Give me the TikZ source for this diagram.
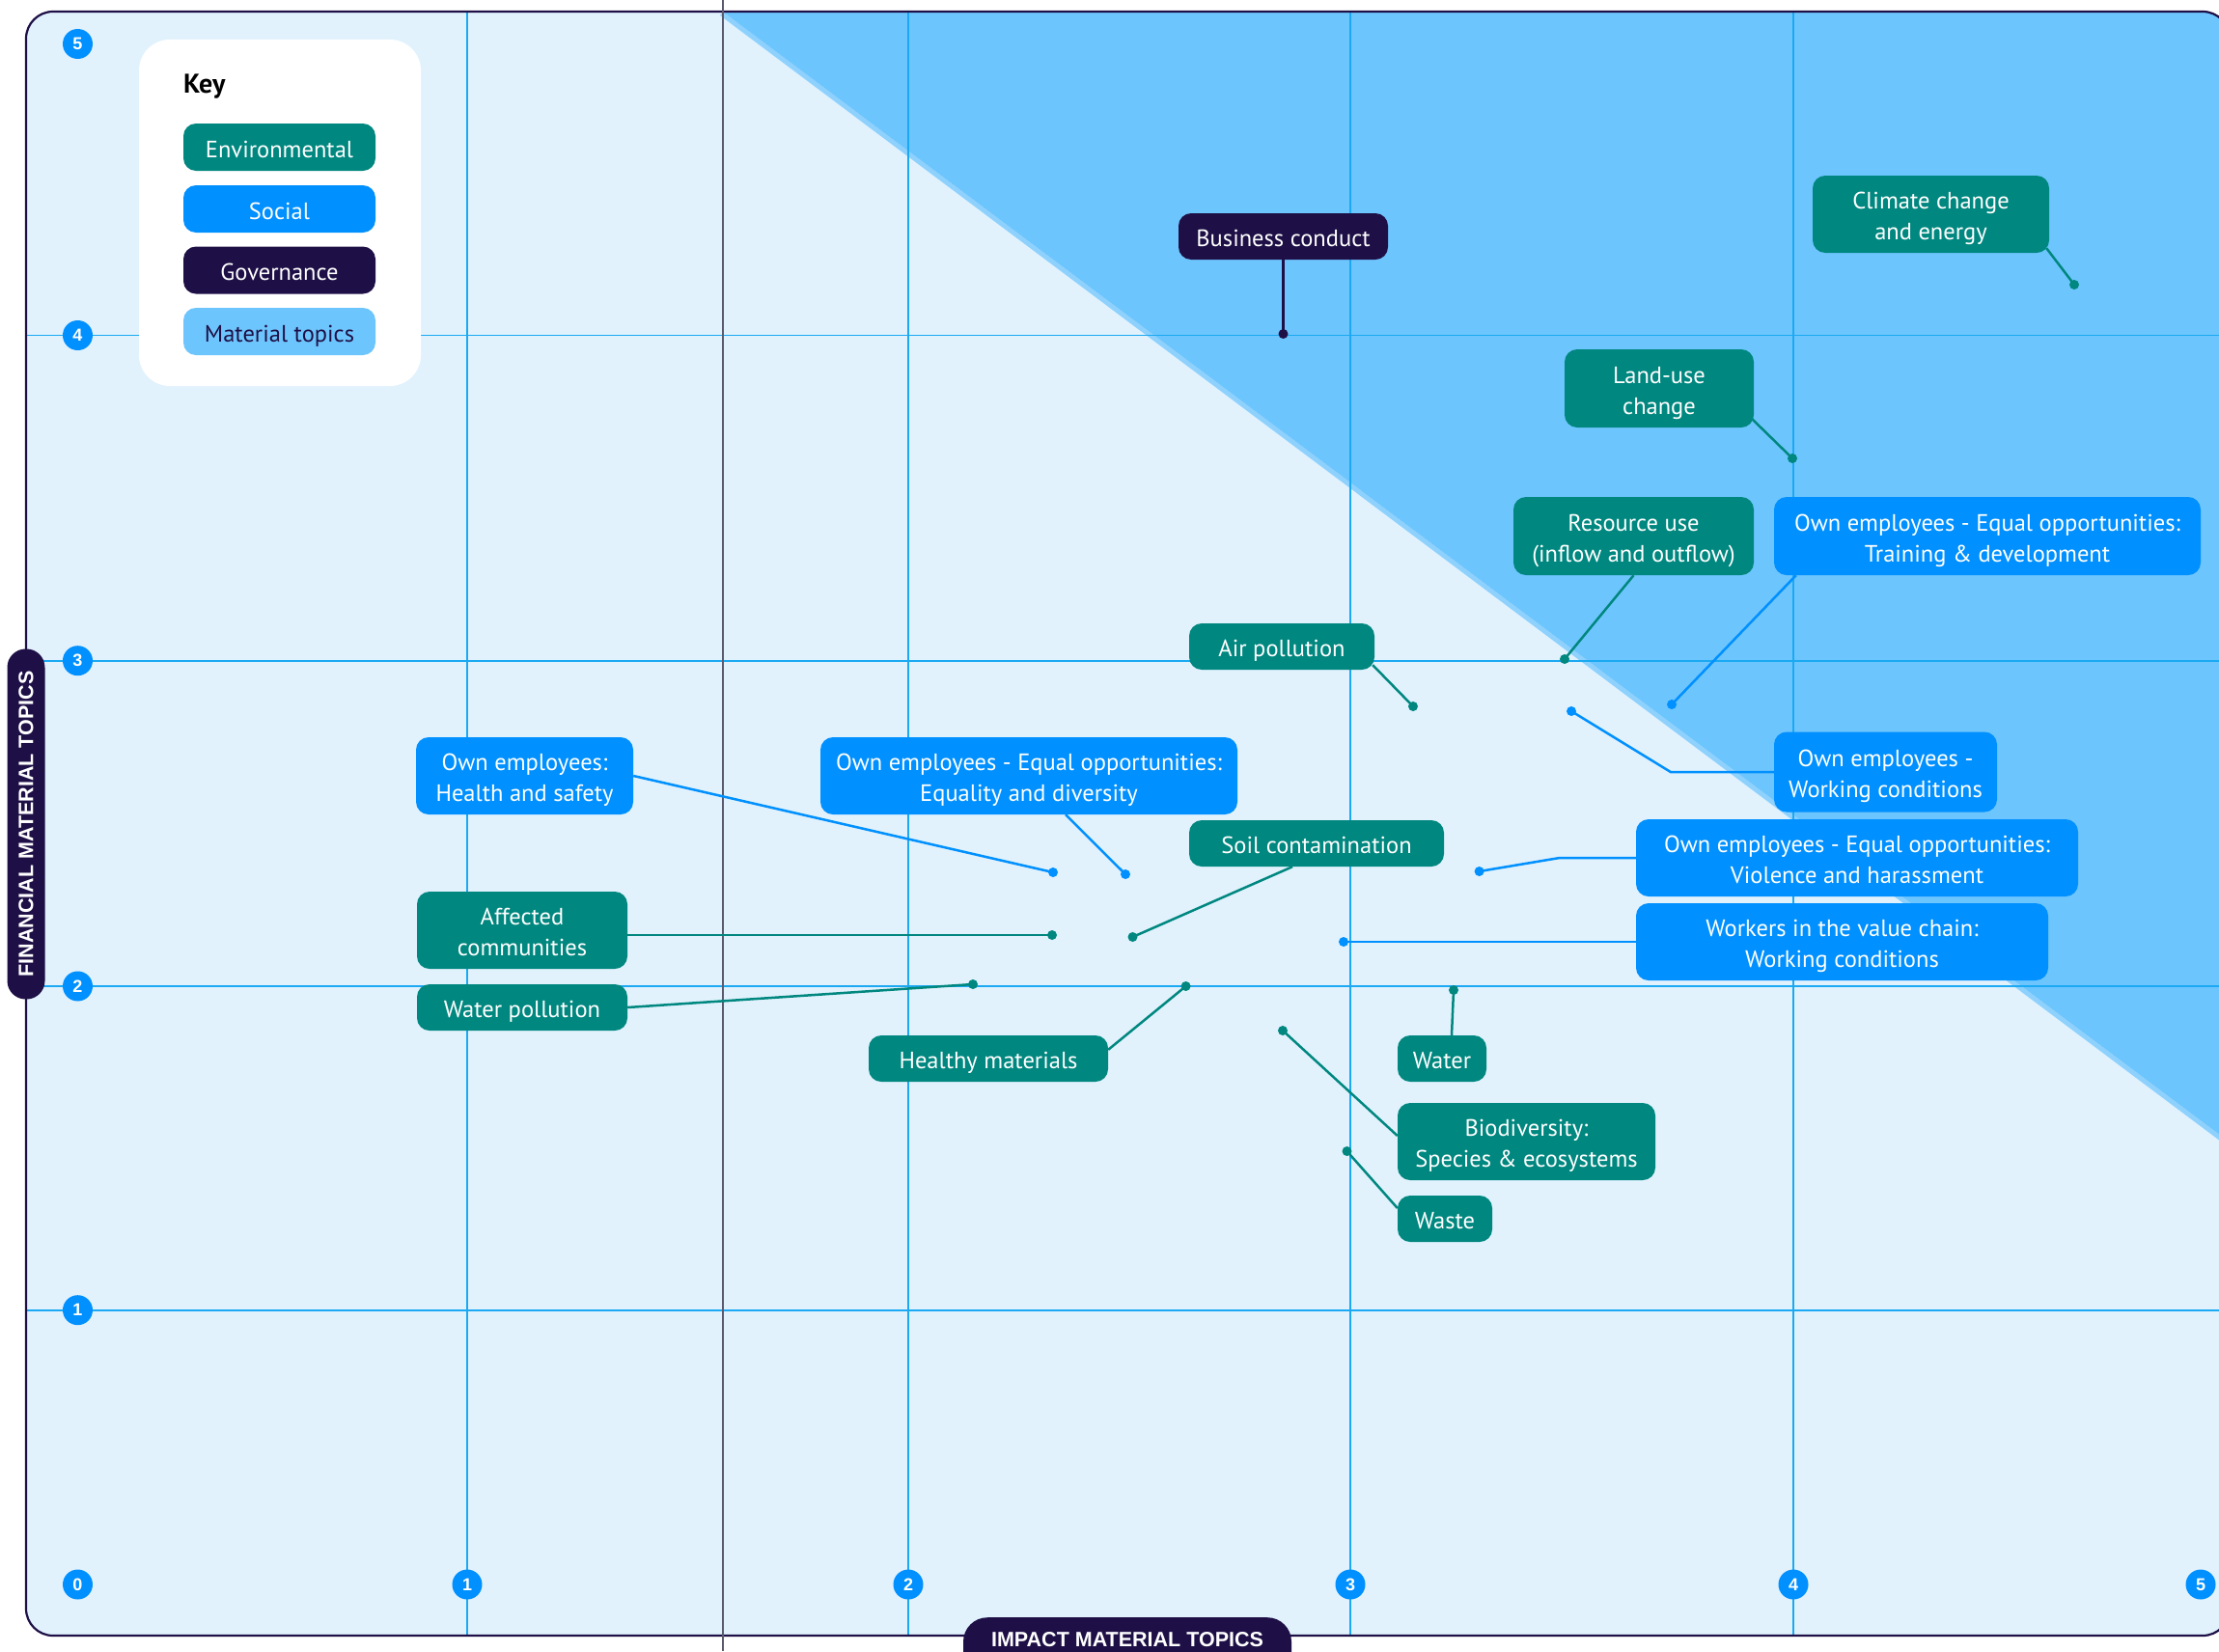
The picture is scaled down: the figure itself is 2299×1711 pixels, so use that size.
\documentclass[tikz,border=0pt]{standalone}
\usepackage{fontspec}
\setmainfont{PT Sans}
\newfontfamily\labfont{Liberation Sans}
\usetikzlibrary{calc}
\definecolor{envc}{HTML}{00877F}
\definecolor{socc}{HTML}{0090FF}
\definecolor{govc}{HTML}{1E1046}
\definecolor{matc}{HTML}{6DC5FD}
\definecolor{bgc}{HTML}{E1F2FD}
\definecolor{gridc}{HTML}{1AA9F2}
\definecolor{darkline}{HTML}{5A5A6E}
\definecolor{glowc}{HTML}{3DB2FE}
\newcommand\boxstrut{\rule[-5.5pt]{0pt}{32pt}}
\newcommand\firstline{\rule{0pt}{27pt}}
\pgfdeclarelayer{back}
\pgfdeclarelayer{lines}
\pgfsetlayers{back,lines,main}
\tikzset{
  tbox/.style={rounded corners=13pt, text=white, align=center, inner sep=0pt,
    font=\fontsize{24.5}{32}\selectfont, execute at begin node=\boxstrut, execute at end node=\boxstrut},
  sz/.style 2 args={minimum width=#1pt, minimum height=#2pt},
  envbox/.style={tbox, fill=envc},
  socbox/.style={tbox, fill=socc},
  govbox/.style={tbox, fill=govc},
  matbox/.style={tbox, fill=matc, text=govc},
  dotpt/.style={circle, inner sep=0pt, minimum size=10pt},
  conn/.style={line width=2.5pt},
  badge/.style={circle, fill=socc, inner sep=0pt, minimum size=31pt, text=white, font=\labfont\bfseries\fontsize{18}{18}\selectfont},
  axpill/.style={fill=govc, text=white, rounded corners=19pt, inner sep=0pt, font=\labfont\bfseries\fontsize{21.5}{22}\selectfont},
  hgrid/.style={gridc, line width=1.6pt},
  vgrid/.style={gridc, line width=1.2pt},
}
\begin{document}
\begin{tikzpicture}[x=1pt,y=-1pt]
\useasboundingbox (0,0) rectangle (2299,1711);
\begin{pgfonlayer}{back}
\begin{scope}
\clip (0,0) rectangle (2299,1711);
\fill[white] (0,0) rectangle (2299,1711);
\fill[bgc, rounded corners=28pt] (27,12) rectangle (2310,1695);
\begin{scope}
\clip[rounded corners=28pt] (27,12) rectangle (2310,1695);
\fill[matc] (749,12) -- (2310,12) -- (2310,1183.5) -- cycle;
\draw[glowc, line width=5pt, opacity=0.5] (747.5,14) -- (2308.5,1185.5);
\end{scope}
\foreach \gx in {484,941,1399,1858} \draw[vgrid] (\gx,12) -- (\gx,1695);
\foreach \gy in {347.5,684.7,1022,1357.7} \draw[hgrid] (27,\gy) -- (2310,\gy);
\draw[govc, line width=2.2pt, rounded corners=28pt] (27,12) rectangle (2310,1695);
\draw[darkline, line width=1.5pt] (749,0) -- (749,1711);
\end{scope}
\end{pgfonlayer}

% key
\node[fill=white, rounded corners=32pt, minimum width=292pt, minimum height=359pt, inner sep=0pt] (keybox) at (290,220.5) {};
\node[anchor=base west, inner sep=0pt, font=\bfseries\fontsize{28}{30}\selectfont] (keytitle) at (190,96) {Key};
\node[envbox, sz={199}{49}] (kenv) at (289.5,152.5) {Environmental};
\node[socbox, sz={199}{49}] (ksoc) at (289.5,216.5) {Social};
\node[govbox, sz={199}{49}] (kgov) at (289.5,280) {Governance};
\node[matbox, sz={199}{49}] (kmat) at (289.5,343.5) {Material topics};

% axis badges
\node[badge] (y5) at (80.5,45.5) {5};
\node[badge] (y4) at (80.5,347.5) {4};
\node[badge] (y3) at (80.5,684.7) {3};
\node[badge] (y2) at (80.5,1022) {2};
\node[badge] (y1) at (80.5,1357.7) {1};
\node[badge] (x0) at (80.5,1642) {0};
\node[badge] (x1) at (484,1642) {1};
\node[badge] (x2) at (941,1642) {2};
\node[badge] (x3) at (1399,1642) {3};
\node[badge] (x4) at (1858,1642) {4};
\node[badge] (x5) at (2280,1642) {5};

% topic boxes
\node[govbox, sz={217}{48}] (biz) at (1329.5,245) {Business conduct};
\node[envbox, sz={245}{80}] (climate) at (2000.5,222) {\firstline Climate change\\and energy};
\node[envbox, sz={196}{81}] (landuse) at (1719,402.5) {\firstline Land-use\\change};
\node[envbox, sz={249}{81}] (resource) at (1692.5,555.5) {\firstline Resource use\\(inflow and outflow)};
\node[socbox, sz={442}{81}] (training) at (2059,555.5) {\firstline Own employees - Equal opportunities:\\Training \& development};
\node[socbox, sz={231}{83}] (workcond) at (1953.5,800) {\firstline Own employees -\\Working conditions};
\node[socbox, sz={458}{80}] (violence) at (1924,889) {\firstline Own employees - Equal opportunities:\\Violence and harassment};
\node[socbox, sz={427}{80}] (workers) at (1908.5,976) {\firstline Workers in the value chain:\\Working conditions};
\node[envbox, sz={192}{48}] (air) at (1328,670) {Air pollution};
\node[socbox, sz={432}{80}] (equality) at (1066,804) {\firstline Own employees - Equal opportunities:\\Equality and diversity};
\node[socbox, sz={225}{80}] (health) at (543.5,804) {\firstline Own employees:\\Health and safety};
\node[envbox, sz={264}{48}] (soil) at (1364,874) {Soil contamination};
\node[envbox, sz={218}{80}] (affected) at (541,964) {\firstline Affected\\communities};
\node[envbox, sz={218}{48}] (waterpol) at (541,1044) {Water pollution};
\node[envbox, sz={248}{48}] (healthy) at (1024,1097) {Healthy materials};
\node[envbox, sz={92}{48}] (water) at (1494,1097) {Water};
\node[envbox, sz={267}{80}] (biodiv) at (1581.5,1183) {\firstline Biodiversity:\\Species \& ecosystems};
\node[envbox, sz={98}{48}] (waste) at (1497,1263) {Waste};

% dots
\node[dotpt, fill=govc] (dbiz) at (1329.5,346) {};
\node[dotpt, fill=envc] (dclim) at (2149,295) {};
\node[dotpt, fill=envc] (dland) at (1857,475) {};
\node[dotpt, fill=envc] (dres) at (1621,683) {};
\node[dotpt, fill=socc] (dtrain) at (1732,730) {};
\node[dotpt, fill=socc] (dwork) at (1628,737) {};
\node[dotpt, fill=socc] (dviol) at (1532.6,903) {};
\node[dotpt, fill=socc] (dworkers) at (1392,976) {};
\node[dotpt, fill=envc] (dair) at (1464,732) {};
\node[dotpt, fill=socc] (dequal) at (1166,906) {};
\node[dotpt, fill=socc] (dhealth) at (1091,904) {};
\node[dotpt, fill=envc] (dsoil) at (1173.5,971) {};
\node[dotpt, fill=envc] (daff) at (1090,969) {};
\node[dotpt, fill=envc] (dwpol) at (1008,1020) {};
\node[dotpt, fill=envc] (dhealthy) at (1228.6,1022) {};
\node[dotpt, fill=envc] (dwater) at (1506,1026) {};
\node[dotpt, fill=envc] (dbio) at (1329,1068) {};
\node[dotpt, fill=envc] (dwaste) at (1395.5,1193) {};

\begin{pgfonlayer}{lines}
\draw[conn, govc] (biz.south) -- (dbiz.center);
\draw[conn, envc] ($(climate.south east)+(-3,-5)$) -- (dclim.center);
\draw[conn, envc] ($(landuse.south east)+(-2,-9)$) -- (dland.center);
\draw[conn, envc] (resource.south) -- (dres.center);
\draw[conn, socc] ($(training.south west)+(23,0)$) -- (dtrain.center);
\draw[conn, socc] (workcond.west) -- ++(-107,0) -- (dwork.center);
\draw[conn, socc] (violence.west) -- ++(-79,0) -- (dviol.center);
\draw[conn, socc] (workers.west) -- (dworkers.center);
\draw[conn, envc] ($(air.south east)+(-2,-5)$) -- (dair.center);
\draw[conn, socc] ($(equality.south)+(38,0)$) -- (dequal.center);
\draw[conn, socc] (health.east) -- (dhealth.center);
\draw[conn, envc] ($(soil.south)+(-25,0)$) -- (dsoil.center);
\draw[conn, envc] (affected.east |- daff) -- (daff.center);
\draw[conn, envc] (waterpol.east) -- (dwpol.center);
\draw[conn, envc] ($(healthy.north east)+(0,15)$) -- (dhealthy.center);
\draw[conn, envc] ($(water.north)+(10,0)$) -- (dwater.center);
\draw[conn, envc] ($(biodiv.west)+(0,-6)$) -- (dbio.center);
\draw[conn, envc] ($(waste.west)+(0,-11)$) -- (dwaste.center);
\end{pgfonlayer}

% axis title pills
\node[axpill, rotate=90, minimum width=363pt, minimum height=39pt] (fin) at (27,854) {FINANCIAL MATERIAL TOPICS};
\begin{scope}
\clip (0,0) rectangle (2299,1711);
\node[axpill, rounded corners=25pt, anchor=north, minimum width=340pt, text height=16pt, text depth=40pt, inner ysep=14pt, inner xsep=0pt] (impact) at (1168,1676) {IMPACT MATERIAL TOPICS};
\end{scope}
\end{tikzpicture}
\end{document}
